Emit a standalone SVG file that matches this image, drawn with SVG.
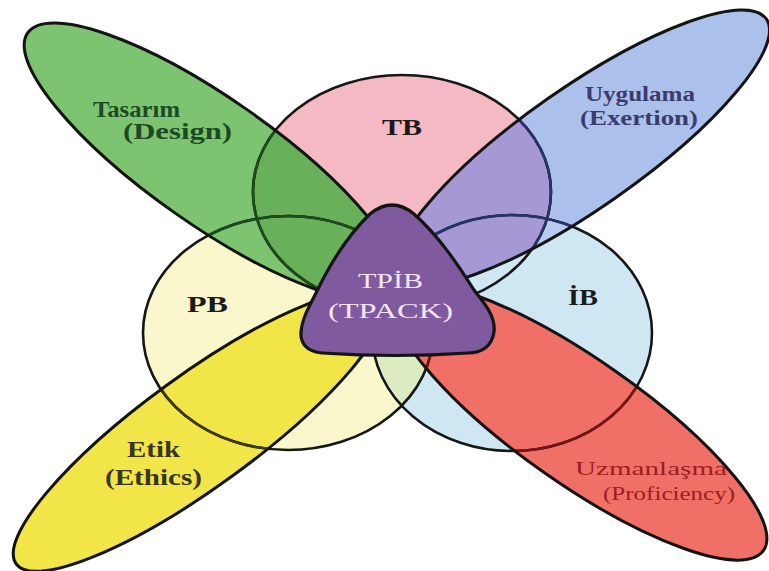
<svg xmlns="http://www.w3.org/2000/svg" width="769" height="571" viewBox="0 0 769 571">
<style>
.ol{fill:none;stroke:#161616;stroke-width:2.6}
.pol{fill:none;stroke:#141414;stroke-width:3}
.lbl{font-family:"Liberation Serif","Times New Roman",serif;font-weight:bold}
.reg{font-family:"Liberation Serif","Times New Roman",serif;font-weight:normal}
</style>
<defs>
<ellipse id="eTB" cx="402" cy="192" rx="149" ry="117"/>
<ellipse id="ePB" cx="288" cy="333" rx="145" ry="117"/>
<ellipse id="eIB" cx="512" cy="333" rx="140" ry="118"/>
<ellipse id="eG" cx="212" cy="162" rx="225" ry="63" transform="rotate(35 212 162)"/>
<ellipse id="eBl" cx="582" cy="148" rx="225" ry="60" transform="rotate(-35 582 148)"/>
<ellipse id="eY" cx="199" cy="431" rx="226" ry="56" transform="rotate(-36 199 431)"/>
<ellipse id="eR" cx="580" cy="422" rx="224" ry="62" transform="rotate(35 580 422)"/>
<clipPath id="cTB"><ellipse cx="402" cy="192" rx="149" ry="117"/></clipPath>
<clipPath id="cIB"><ellipse cx="512" cy="333" rx="140" ry="118"/></clipPath>
<clipPath id="cG"><ellipse cx="212" cy="162" rx="225" ry="63" transform="rotate(35 212 162)"/></clipPath>
<clipPath id="cBl"><ellipse cx="582" cy="148" rx="225" ry="60" transform="rotate(-35 582 148)"/></clipPath>
<clipPath id="cY"><ellipse cx="199" cy="431" rx="226" ry="56" transform="rotate(-36 199 431)"/></clipPath>
<clipPath id="cR"><ellipse cx="580" cy="422" rx="224" ry="62" transform="rotate(35 580 422)"/></clipPath>
</defs>
<rect width="769" height="571" fill="#ffffff"/>

<g id="circle-fills">
<use href="#eTB" fill="#f5b9c3"/>
<use href="#ePB" fill="#f9f7cb"/>
<use href="#eIB" fill="#cfe7f3"/>
<g clip-path="url(#cIB)"><use href="#ePB" fill="#dcecc2"/></g>
</g>

<g id="petal-fills">
<use href="#eG" fill="#7dc470"/>
<use href="#eBl" fill="#abc0ea"/>
<use href="#eY" fill="#f2e548"/>
<use href="#eR" fill="#f07068"/>
</g>

<g id="overlaps">
<g clip-path="url(#cG)"><use href="#eTB" fill="#68b15a"/></g>
<g clip-path="url(#cBl)"><use href="#eIB" fill="#b9ccef"/></g>
<g clip-path="url(#cBl)"><use href="#eTB" fill="#a598d5"/></g>
</g>

<g id="circle-outlines">
<use href="#eTB" class="ol"/>
<use href="#ePB" class="ol"/>
<use href="#eIB" class="ol"/>
<g clip-path="url(#cG)"><use href="#eTB" fill="none" stroke="#1d4a1e" stroke-width="2.6"/><use href="#ePB" fill="none" stroke="#1d4a1e" stroke-width="2.6"/></g>
<g clip-path="url(#cBl)"><use href="#eTB" fill="none" stroke="#26336a" stroke-width="2.6"/><use href="#eIB" fill="none" stroke="#26336a" stroke-width="2.6"/></g>
<g clip-path="url(#cY)"><use href="#ePB" fill="none" stroke="#3c3a12" stroke-width="2.6"/></g>
<g clip-path="url(#cR)"><use href="#eIB" fill="none" stroke="#7a1414" stroke-width="2.6"/><use href="#ePB" fill="none" stroke="#7a1414" stroke-width="2.6"/></g>
</g>

<g id="petal-Tasarim">
<use href="#eG" class="pol"/>
<text class="lbl" x="93" y="117" font-size="24" fill="#1d4a26" textLength="87" lengthAdjust="spacingAndGlyphs">Tasarım</text>
<text class="lbl" x="123" y="139" font-size="24" fill="#1d4a26" textLength="109" lengthAdjust="spacingAndGlyphs">(Design)</text>
</g>
<g id="petal-Uygulama">
<use href="#eBl" class="pol"/>
<text class="lbl" x="585" y="101" font-size="20" fill="#3b3b6e" textLength="110" lengthAdjust="spacingAndGlyphs">Uygulama</text>
<text class="lbl" x="580" y="125" font-size="20" fill="#3b3b6e" textLength="118" lengthAdjust="spacingAndGlyphs">(Exertion)</text>
</g>
<g id="petal-Etik">
<use href="#eY" class="pol"/>
<text class="lbl" x="127" y="457" font-size="24" fill="#3a3520" textLength="53" lengthAdjust="spacingAndGlyphs">Etik</text>
<text class="lbl" x="105" y="485" font-size="24" fill="#3a3520" textLength="97" lengthAdjust="spacingAndGlyphs">(Ethics)</text>
</g>
<g id="petal-Uzmanlasma">
<use href="#eR" class="pol"/>
<text class="reg" x="575" y="475" font-size="19" fill="#9e1d1d" textLength="152" lengthAdjust="spacingAndGlyphs">Uzmanlaşma</text>
<text class="reg" x="603" y="500" font-size="19" fill="#9e1d1d" textLength="132" lengthAdjust="spacingAndGlyphs">(Proficiency)</text>
</g>

<g id="node-TB">
<text class="lbl" x="382" y="135" font-size="23" fill="#1a1a1a" textLength="40" lengthAdjust="spacingAndGlyphs">TB</text>
</g>
<g id="node-PB">
<text class="lbl" x="187" y="312" font-size="24" fill="#1a1a1a" textLength="41" lengthAdjust="spacingAndGlyphs">PB</text>
</g>
<g id="node-IB">
<text class="lbl" x="568" y="305" font-size="23" fill="#1a1a1a" textLength="30" lengthAdjust="spacingAndGlyphs">İB</text>
</g>

<g id="node-TPACK">
<path d="M 370,214 Q 392,196 414,214 C 440,237 460,268 474,290 C 484,303 496,316 494,332 C 492,346 482,353 468,353 Q 395,358 322,353 C 308,352 300,344 301,332 C 302,318 310,305 316,293 C 328,268 346,237 370,214 Z" fill="#7f5a9e" stroke="#141414" stroke-width="3.2"/>
<text class="reg" x="358" y="288" font-size="22" fill="#f4e6f4" textLength="65" lengthAdjust="spacingAndGlyphs">TPİB</text>
<text class="reg" x="328" y="318" font-size="22" fill="#f4e6f4" textLength="125" lengthAdjust="spacingAndGlyphs">(TPACK)</text>
</g>
<g id="connectors"/>
</svg>
